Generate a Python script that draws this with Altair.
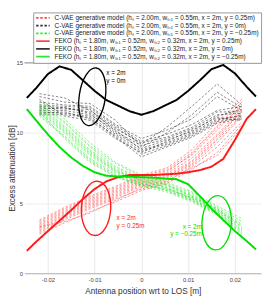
import altair as alt
import pandas as pd

FONT = "Liberation Sans"

# ---------------- data ----------------
labels = [
    "C-VAE generative model (hₛ = 2.00m, wₛ,₁ = 0.55m, x = 2m, y = 0.25m)",
    "C-VAE generative model (hₛ = 2.00m, wₛ,₁ = 0.55m, x = 2m, y = 0m)",
    "C-VAE generative model (hₛ = 2.00m, wₛ,₁ = 0.55m, x = 2m, y = −0.25m)",
    "FEKO (hₛ = 1.80m, wₛ,₁ = 0.52m, wₛ,₂ = 0.32m, x = 2m, y = 0.25m)",
    "FEKO (hₛ = 1.80m, wₛ,₁ = 0.52m, wₛ,₂ = 0.32m, x = 2m, y = 0m)",
    "FEKO (hₛ = 1.80m, wₛ,₁ = 0.52m, wₛ,₂ = 0.32m, x = 2m, y = −0.25m)",
]
colors = ["#ff1a1a", "#000000", "#00e000", "#ff1a1a", "#000000", "#00e000"]
dashes = [[2.5, 1.8], [2.5, 1.8], [2.5, 1.8], [1, 0], [1, 0], [1, 0]]

x_cvae = [-0.0218, -0.0164, -0.011, -0.0055, 0.0, 0.0054, 0.0108, 0.0162, 0.0215]

cvae_red = [
    [3.8, 4.7, 5.5, 6.2, 7.0, 7.5, 8.8, 10.8, 12.4],
    [3.7, 4.6, 5.4, 6.1, 6.9, 7.4, 8.6, 10.5, 12.2],
    [3.6, 4.5, 5.3, 6.0, 6.8, 7.3, 8.4, 10.2, 12.0],
    [3.5, 4.4, 5.2, 5.9, 6.7, 7.2, 8.5, 10.4, 11.9],
    [3.4, 4.3, 5.1, 5.8, 6.6, 7.1, 8.2, 9.9, 11.7],
    [3.3, 4.2, 5.0, 5.7, 6.5, 7.0, 8.0, 9.8, 11.5],
    [3.2, 4.1, 4.9, 5.6, 6.4, 6.9, 7.9, 9.6, 11.6],
    [3.1, 4.0, 4.8, 5.5, 6.3, 6.8, 7.8, 9.5, 11.3],
    [3.0, 3.9, 4.7, 5.4, 6.2, 6.7, 7.7, 9.3, 11.2],
    [2.9, 3.8, 4.6, 5.3, 6.0, 6.5, 7.6, 9.0, 10.8],
    [2.8, 3.6, 4.4, 5.1, 5.9, 6.4, 7.4, 8.6, 10.6],
    [3.3, 3.7, 4.3, 5.2, 6.1, 6.6, 7.5, 8.4, 10.4],
]
cvae_black = [
    [12.8, 12.5, 11.6, 10.4, 9.2, 10.4, 11.9, 13.5, 12.0],
    [12.6, 12.2, 12.1, 10.9, 9.0, 10.0, 11.3, 12.9, 11.8],
    [12.2, 12.0, 11.9, 10.6, 9.6, 10.2, 11.0, 12.6, 11.6],
    [12.0, 11.9, 11.8, 10.5, 9.4, 9.9, 10.6, 11.6, 11.9],
    [11.9, 11.8, 11.5, 10.3, 9.3, 9.7, 10.4, 11.5, 11.5],
    [11.8, 11.7, 11.7, 10.1, 9.1, 9.6, 10.3, 11.3, 11.4],
    [11.7, 11.8, 11.4, 10.0, 8.9, 9.5, 10.1, 11.2, 11.7],
    [11.6, 11.6, 11.3, 10.2, 8.8, 9.3, 10.0, 11.0, 11.2],
    [11.5, 11.4, 11.2, 9.9, 8.7, 9.2, 9.9, 10.9, 11.3],
    [11.4, 11.5, 11.0, 9.8, 8.5, 9.1, 9.8, 10.8, 11.1],
    [11.3, 11.3, 11.1, 9.7, 8.3, 9.0, 9.7, 10.7, 11.0],
    [12.4, 11.2, 10.9, 9.6, 8.6, 9.4, 10.2, 11.1, 10.9],
]
cvae_green = [
    [12.3, 11.0, 9.3, 7.9, 7.0, 6.5, 5.8, 4.8, 3.9],
    [12.1, 10.8, 9.1, 7.8, 6.9, 6.4, 5.7, 4.7, 3.7],
    [12.0, 10.7, 9.0, 7.6, 6.8, 6.3, 5.6, 4.6, 3.5],
    [11.9, 10.5, 8.8, 7.5, 6.7, 6.3, 5.5, 4.6, 3.3],
    [11.8, 10.4, 8.7, 7.4, 6.6, 6.2, 5.5, 4.5, 3.4],
    [11.7, 10.3, 8.6, 7.3, 6.6, 6.1, 5.4, 4.4, 3.1],
    [11.6, 10.2, 8.5, 7.3, 6.5, 6.1, 5.3, 4.4, 3.0],
    [11.5, 10.1, 8.4, 7.2, 6.4, 6.0, 5.3, 4.3, 2.9],
    [11.4, 10.0, 8.2, 7.1, 6.4, 5.9, 5.2, 4.3, 2.8],
    [11.3, 9.8, 8.1, 7.0, 6.3, 5.9, 5.2, 4.2, 2.7],
    [11.2, 9.7, 8.0, 6.9, 6.2, 5.8, 5.1, 4.15, 2.6],
    [11.5, 9.6, 7.9, 6.85, 6.3, 6.0, 5.4, 4.5, 3.2],
]

x_feko = [-0.0245, -0.0225, -0.02, -0.0175, -0.015, -0.0125, -0.01, -0.0075, -0.005, -0.0025, 0.0,
          0.0025, 0.005, 0.0075, 0.01, 0.0125, 0.015, 0.0175, 0.02, 0.0225, 0.0245]
feko_red = [1.6, 2.25, 3.0, 3.75, 4.5, 5.3, 6.0, 6.55, 6.85, 7.0, 7.0,
            7.0, 7.05, 7.1, 7.2, 7.35, 7.6, 8.15, 9.5, 11.0, 11.7]
feko_black = [12.5, 13.2, 14.2, 14.75, 14.5, 13.75, 13.0, 12.35, 11.95, 11.55, 11.3,
              11.55, 11.95, 12.35, 13.0, 13.75, 14.55, 14.85, 14.25, 13.3, 12.6]
feko_green = [11.7, 10.9, 9.9, 9.0, 8.25, 7.65, 7.2, 6.95, 6.9, 6.88, 6.85,
              6.82, 6.75, 6.7, 6.35, 5.5, 4.6, 3.8, 3.0, 2.3, 1.7]

# annotations (ellipses and labels) in data coordinates
ell_x = [-0.0105, -0.0097, 0.0161]
ell_y = [12.58, 4.63, 3.6]
ann_black_x = [-0.0075, -0.0075]
ann_black_y = [14.24, 13.68]
ann_black_t = ["x = 2m", "y = 0m"]
ann_red_x = [-0.0053, -0.0053]
ann_red_y = [3.94, 3.39]
ann_red_t = ["x = 2m", "y = 0.25m"]
ann_green_x = [0.0129, 0.0129]
ann_green_y = [3.32, 2.76]
ann_green_t = ["x = 2m", "y = −0.25m"]

# ---------------- tables ----------------
rows = []
for lab, group in zip(labels[:3], [cvae_red, cvae_black, cvae_green]):
    for k, sample in enumerate(group):
        for xv, yv in zip(x_cvae, sample):
            rows.append({"series": lab, "sample": f"{lab}-{k}", "x": xv, "y": yv})
df_cvae = pd.DataFrame(rows)

rows = []
for lab, vals in zip(labels[3:], [feko_red, feko_black, feko_green]):
    for xv, yv in zip(x_feko, vals):
        rows.append({"series": lab, "x": xv, "y": yv})
df_feko = pd.DataFrame(rows)

xscale = alt.Scale(domain=[-0.025, 0.0256], nice=False, zero=False)
yscale = alt.Scale(domain=[0, 15], nice=False)

legend = alt.Legend(
    orient="none", legendX=9, legendY=-52, title=None,
    labelFont=FONT, labelFontSize=6.6, labelColor="#222", labelLimit=400, labelOffset=4,
    symbolType="stroke", symbolSize=196, symbolStrokeWidth=1.6,
    clipHeight=7.2, rowPadding=0, padding=2,
    strokeColor="#999999", fillColor="white",
)
color = alt.Color("series:N", scale=alt.Scale(domain=labels, range=colors), legend=legend)
dash = alt.StrokeDash("series:N", scale=alt.Scale(domain=labels, range=dashes), legend=legend)

xenc = alt.X("x:Q", scale=xscale, title="Antenna position wrt to LOS [m]",
             axis=alt.Axis(values=[-0.02, -0.01, 0, 0.01, 0.02], labelExpr="'' + datum.value",
                           ticks=False, labelPadding=4, grid=True, gridColor="#e8e8e8",
                           domainColor="#b0b0b0", titleY=18, titleBaseline="middle"))
yenc = alt.Y("y:Q", scale=yscale, title="Excess attenuation [dB]",
             axis=alt.Axis(values=[0, 5, 10, 15], ticks=False, labelPadding=2, domain=False,
                           grid=True, gridColor="#ededed", titleX=-13, titleY=108.5,
                           titleBaseline="middle"))

cvae = alt.Chart(df_cvae).mark_line(strokeWidth=0.6, opacity=0.8).encode(
    x=xenc, y=yenc, color=color, strokeDash=dash, detail="sample:N")
feko = alt.Chart(df_feko).mark_line(strokeWidth=2).encode(
    x="x:Q", y="y:Q", color=color, strokeDash=dash)

top_rule = alt.Chart(pd.DataFrame({"v": [15]})).mark_rule(color="#8a8a8a", strokeWidth=1).encode(
    y=alt.Y("v:Q", scale=yscale))

ellipse_path_black = "M0,-1A0.45,1,0,1,1,0,1A0.45,1,0,1,1,0,-1Z"
ellipse_path_rg = "M0,-1A0.54,1,0,1,1,0,1A0.54,1,0,1,1,0,-1Z"

def ellipse(i, col, path, size, ang):
    d = pd.DataFrame({"x": [ell_x[i]], "y": [ell_y[i]]})
    return alt.Chart(d).mark_point(shape=path, size=size, filled=False, stroke=col,
                                   strokeWidth=1.4, opacity=1, angle=ang).encode(
        x=alt.X("x:Q", scale=xscale), y=alt.Y("y:Q", scale=yscale))

def texts(xs, ys, ts, col, align):
    d = pd.DataFrame({"x": xs, "y": ys, "t": ts})
    return alt.Chart(d).mark_text(align=align, baseline="middle", font=FONT, fontSize=6.5,
                                  color=col).encode(
        x=alt.X("x:Q", scale=xscale), y=alt.Y("y:Q", scale=yscale), text="t:N")

chart = alt.layer(
    top_rule, cvae, feko,
    ellipse(0, "#000000", ellipse_path_black, 3600, 8),
    ellipse(1, "#ff1a1a", ellipse_path_rg, 3136, 3),
    ellipse(2, "#00e000", ellipse_path_rg, 3136, 3),
    texts(ann_black_x, ann_black_y, ann_black_t, "#000000", "left"),
    texts(ann_red_x, ann_red_y, ann_red_t, "#ff1a1a", "left"),
    texts(ann_green_x, ann_green_y, ann_green_t, "#00e000", "right"),
).properties(
    width=244, height=217,
    autosize=alt.AutoSizeParams(type="none"),
    padding={"left": 17, "top": 52, "right": 3, "bottom": 23},
).configure_view(stroke=None).configure_axis(
    labelFont=FONT, labelFontSize=6, labelColor="#444",
    titleFont=FONT, titleFontSize=8.5, titleColor="#333", titleFontWeight="normal",
)

chart.save("out.html", embed_options={"renderer": "svg", "actions": False})
